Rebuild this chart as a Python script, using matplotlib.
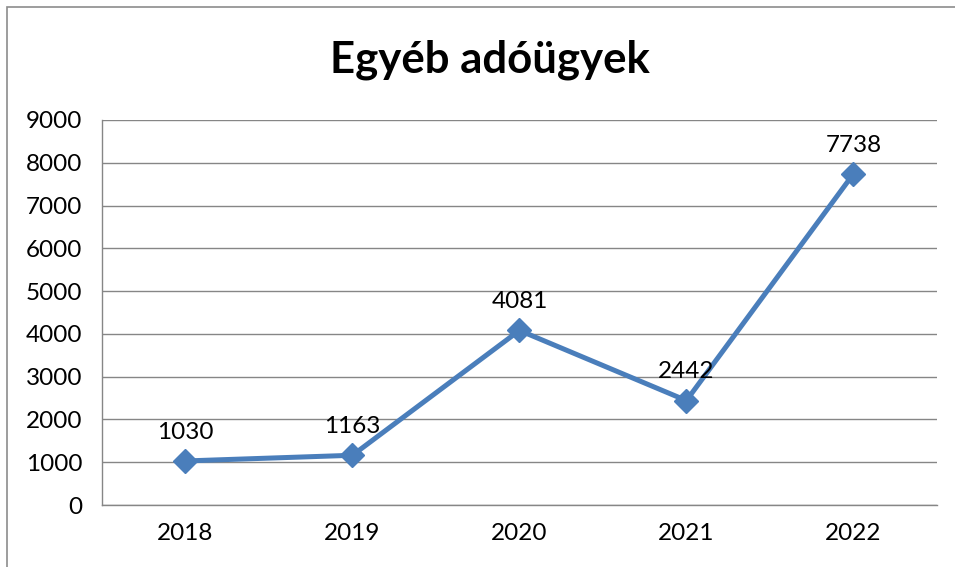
import matplotlib.pyplot as plt
from matplotlib.patches import Rectangle

years = ['2018', '2019', '2020', '2021', '2022']
values = [1030, 1163, 4081, 2442, 7738]
yticks = [0, 1000, 2000, 3000, 4000, 5000, 6000, 7000, 8000, 9000]

plt.rcParams['font.family'] = ['Lato', 'DejaVu Sans']

fig = plt.figure(figsize=(9.55, 5.67), dpi=100)
ax = fig.add_axes([0.1068, 0.1093, 0.8742, 0.6791])

# outer chart border (only left and top visible)
fig.patches.append(Rectangle((7 / 955, -0.1), 1.2, (567 - 7) / 567 + 0.1,
                             transform=fig.transFigure, fill=False,
                             edgecolor='#8c8c8c', linewidth=1.2))

x = range(len(years))
ax.plot(x, values, color='#4a7ebb', linewidth=3.6, marker='D', markersize=12,
        zorder=3, solid_capstyle='round')
for i, v in zip(x, values):
    ax.annotate(str(v), (i, v), xytext=(0, 13), textcoords='offset points',
                ha='center', va='bottom', fontsize=17.5, color='black')

ax.set_xlim(-0.5, 4.5)
ax.set_ylim(0, 9000)
ax.set_yticks(yticks)
ax.set_xticks(list(x))
ax.set_xticklabels(years)
ax.tick_params(axis='both', length=0, labelsize=17.5, colors='black')
ax.tick_params(axis='x', pad=13)
ax.tick_params(axis='y', pad=14)
ax.grid(axis='y', color='#868686', linewidth=1)
ax.set_axisbelow(True)
for s in ['top', 'right']:
    ax.spines[s].set_visible(False)
for s in ['left', 'bottom']:
    ax.spines[s].set_color('#868686')
    ax.spines[s].set_linewidth(1)

fig.text(0.513, 0.895, 'Egyéb adóügyek', ha='center', va='center',
         fontsize=31.5, fontweight='bold')

fig.savefig('out.png', dpi=100)
